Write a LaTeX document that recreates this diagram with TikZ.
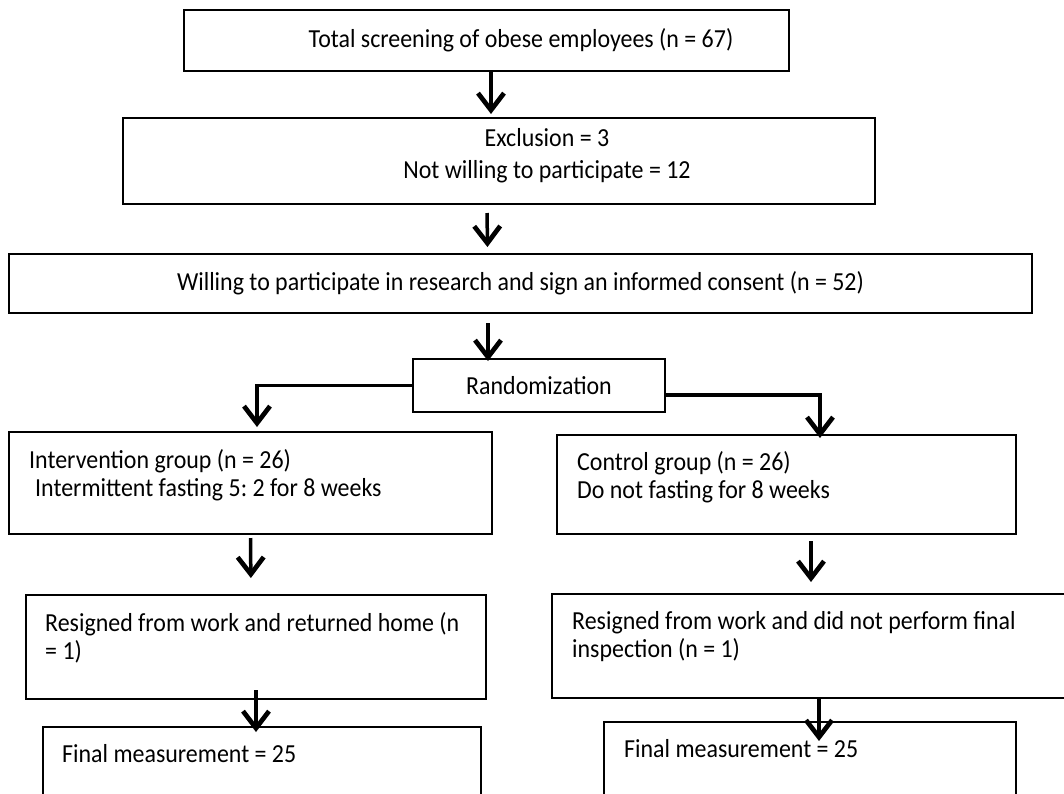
\documentclass[tikz,border=0pt]{standalone}
\usepackage{fontspec}
\setmainfont{Carlito}[FakeStretch=0.92]
\frenchspacing
\usetikzlibrary{arrows.meta,positioning}
\begin{document}
\begin{tikzpicture}[x=1pt,y=-1pt,
    box/.style={draw,line width=2pt,inner sep=0pt},
    txt/.style={inner sep=0pt,align=left,font=\fontsize{26}{28.7}\selectfont},
    arr/.style={line width=3.5pt,-{Straight Barb[length=17pt,width=26pt,line width=1.2pt 1]}}]
    \useasboundingbox (0,0) rectangle (1064,793);
    \clip (0,0) rectangle (1064,793);
    % boxes
    \node[box,minimum width=605pt,minimum height=61pt] (screen) at (486.5,40.5) {};
    \node[box,minimum width=752pt,minimum height=86pt] (excl) at (499,161) {};
    \node[box,txt,align=center,minimum width=1023pt,minimum height=59pt] (willing) at (520.5,283.5)
        {Willing to participate in research and sign an informed consent (n = 52)};
    \node[box,txt,align=center,minimum width=252pt,minimum height=53pt] (random) at (539,385.5) {Randomization};
    \node[box,minimum width=483pt,minimum height=102pt] (interv) at (250.5,483) {};
    \node[box,minimum width=459pt,minimum height=99pt] (control) at (786.5,484.5) {};
    \node[box,minimum width=460pt,minimum height=104pt] (resL) at (256,647) {};
    \node[box,minimum width=524pt,minimum height=104pt] (resR) at (814,646) {};
    \node[box,minimum width=438pt,minimum height=83pt] (finL) at (262,768.5) {};
    \node[box,minimum width=412pt,minimum height=88pt] (finR) at (810,766) {};
    % texts
    \node[txt,align=center] (screenT) at ([xshift=34.5pt]screen.center) {Total screening of obese employees (n = 67)};
    \node[txt,align=center,font=\fontsize{26}{32}\selectfont] (exclT) at ([shift={(48pt,5pt)}]excl.center)
        {Exclusion = 3\\Not willing to participate = 12};
    \node[txt,below right=18pt and 21pt of interv.north west] (intervT)
        {Intervention group (n = 26)\\\hspace*{0.23em}Intermittent fasting 5: 2 for 8 weeks};
    \node[txt,below right=17pt and 21pt of control.north west] (controlT)
        {Control group (n = 26)\\Do not fasting for 8 weeks};
    \node[txt,below right=18pt and 20pt of resL.north west] (resLT)
        {Resigned from work and returned home (n\\= 1)};
    \node[txt,below right=18pt and 21pt of resR.north west] (resRT)
        {Resigned from work and did not perform final\\inspection (n = 1)};
    \node[txt,below right=18pt and 20pt of finL.north west] (finLT) {Final measurement = 25};
    \node[txt,below right=18pt and 21pt of finR.north west] (finRT) {Final measurement = 25};
    % arrows
    \draw[arr,shorten >=3pt] ([xshift=4.5pt]screen.south) -- ([xshift=-8pt]excl.north);
    \draw[arr,shorten <=8pt,shorten >=6pt] ([xshift=-12pt]excl.south) -- ([xshift=-33pt]willing.north);
    \draw[arr,shorten <=9pt,shorten >=-3pt] ([xshift=-32.5pt]willing.south) -- ([xshift=-51pt]random.north);
    \draw[arr,shorten >=4pt] (random.west) -| ([xshift=6.5pt]interv.north);
    \draw[arr,shorten >=-4pt] ([yshift=-9.5pt]random.east) -| ([xshift=33.5pt]control.north);
    \draw[arr,shorten <=3pt,shorten >=16pt] (interv.south) -- ([xshift=-5pt]resL.north);
    \draw[arr,shorten <=6pt,shorten >=11pt] ([xshift=24.5pt]control.south) -- ([xshift=-3pt]resR.north);
    \draw[arr,shorten <=-10pt,shorten >=-6pt] (resL.south) -- ([xshift=-6pt]finL.north);
    \draw[arr,shorten >=-20pt] ([xshift=5pt]resR.south) -- ([xshift=9pt]finR.north);
\end{tikzpicture}
\end{document}
